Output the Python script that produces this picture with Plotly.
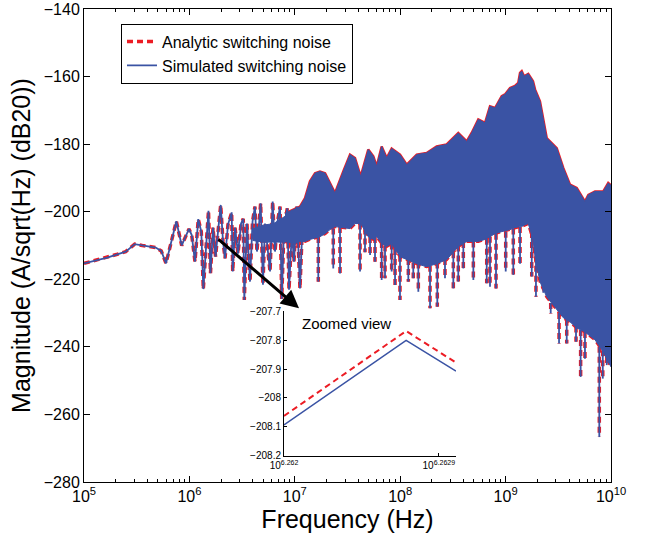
import plotly.graph_objects as go

# ---------------- data (frequencies as log10(Hz), magnitudes in dB) ----------------
# Low-frequency part: individual peaks and troughs of the spectrum
LOW_LOGF = [5.000, 5.126, 5.221, 5.316, 5.396, 5.481, 5.553, 5.680, 5.733, 5.778,
            5.876, 5.927, 5.996, 6.022, 6.053, 6.084, 6.113, 6.132, 6.181, 6.200,
            6.224, 6.248, 6.297, 6.319, 6.338, 6.366, 6.401, 6.411, 6.433, 6.461,
            6.490, 6.511, 6.521, 6.546, 6.575, 6.599, 6.622, 6.641, 6.676, 6.698,
            6.717, 6.741, 6.765, 6.790, 6.812, 6.836, 6.860, 6.876, 6.898, 6.929,
            6.945, 6.973, 6.992, 7.018, 7.049, 7.078]
LOW_DB = [-215.3, -214.3, -213.6, -212.6, -211.8, -209.6, -210.0, -210.6, -211.6, -215.3,
          -202.8, -210.0, -205.1, -206.9, -214.8, -202.2, -205.9, -222.9, -199.7, -218.2,
          -204.7, -213.3, -198.0, -208.8, -213.8, -203.8, -200.2, -217.7, -204.7, -212.4,
          -203.5, -202.1, -226.1, -203.5, -220.7, -202.9, -198.5, -211.8, -197.5, -221.6,
          -203.5, -211.8, -217.7, -197.0, -211.8, -202.9, -198.5, -225.8, -204.4, -199.0,
          -223.1, -205.3, -214.8, -198.5, -222.7, -199.9]

# Where the oscillations start to merge into a solid core (no visible red edge)
CORE_LOGF = [6.60, 6.70, 6.80, 6.90, 6.95]
CORE_TOP = [-205.0, -204.0, -203.5, -201.5, -200.5]
CORE_BOT = [-208.5, -209.0, -209.0, -209.0, -208.8]

# Dense high-frequency part: upper envelope and lower edge of the solid band
ENV_LOGF = [6.907, 7.002, 7.049, 7.097, 7.144, 7.192, 7.239, 7.287, 7.334, 7.381,
            7.460, 7.524, 7.571, 7.625, 7.697, 7.745, 7.777, 7.824, 7.872, 7.919,
            7.998, 8.062, 8.157, 8.251, 8.346, 8.441, 8.551, 8.631, 8.678, 8.741, 8.805,
            8.852, 8.900, 8.963, 8.994, 9.042, 9.089, 9.120, 9.137, 9.153, 9.175, 9.215,
            9.260, 9.279, 9.326,
            9.390, 9.485, 9.548, 9.611, 9.675, 9.753, 9.785, 9.848, 9.927, 9.974, 10.0]
ENV_TOP = [-200.5, -199.1, -198.5, -196.0, -191.0, -188.6, -188.1, -188.6, -191.5, -194.5,
           -188.1, -183.1, -184.1, -189.6, -181.6, -183.6, -186.6, -180.7, -184.1, -181.3,
           -183.1, -186.1, -183.1, -182.6, -180.7, -180.1, -176.7, -179.2, -176.7, -172.7, -173.7,
           -168.8, -169.3, -165.8, -165.3, -163.4, -162.8, -161.9, -158.9, -158.4, -159.9, -159.2,
           -161.4, -163.8, -167.3,
           -178.2, -181.2, -187.1, -192.0, -193.0, -197.0, -195.0, -194.0, -194.0, -191.5, -192.2]
ENV_BOT = [-208.8, -209.4, -208.8, -208.8, -208.2, -207.7, -207.4, -206.5, -205.3, -204.4,
           -204.7, -205.0, -203.5, -203.5, -207.4, -208.2, -207.4, -209.4, -210.3, -209.4,
           -213.3, -214.2, -215.4, -216.3, -215.4, -214.2, -210.3, -208.8, -208.8, -208.8, -208.2,
           -207.4, -206.5, -205.9, -205.6, -205.3, -204.7, -204.5, -204.4, -204.4, -204.0, -203.5,
           -208.2, -213.3, -220.7,
           -225.2, -229.0, -231.4, -232.6, -234.4, -235.6, -236.4, -237.9, -241.5, -244.5, -245.9]

# Deep notches below the solid band
SPIKE_LOGF = [7.223, 7.365, 7.429, 7.619, 7.666, 7.714, 7.761, 7.824, 7.856, 7.919,
              7.951, 7.998, 8.077, 8.124, 8.172, 8.283, 8.352, 8.425, 8.504, 8.551,
              8.599, 8.694, 8.821, 8.852, 8.909, 9.001, 9.073, 9.137, 9.248, 9.288,
              9.358, 9.428, 9.507, 9.580, 9.668, 9.712, 9.753, 9.889, 9.922, 9.960]
SPIKE_TOP = [-207.5, -205.0, -204.5, -203.5, -205.0, -207.5, -207.5, -209.0, -210.0, -209.4,
             -211.0, -213.0, -214.0, -215.0, -215.0, -216.0, -215.0, -214.0, -212.0, -210.0,
             -209.0, -208.8, -208.0, -207.4, -206.5, -205.9, -205.0, -204.5, -206.0, -213.0,
             -221.0, -227.0, -230.0, -232.0, -234.0, -235.0, -235.6, -240.0, -241.0, -243.0]
SPIKE_BOT = [-220.7, -216.8, -218.3, -217.7, -212.0, -212.8, -214.8, -220.2, -219.7, -217.7,
             -221.7, -226.1, -220.7, -219.7, -223.7, -228.6, -228.1, -219.7, -222.7, -220.7,
             -216.8, -220.2, -221.2, -222.2, -222.7, -217.7, -218.7, -215.4, -219.2, -225.2,
             -224.0, -230.1, -239.0, -239.0, -238.5, -248.9, -243.5, -266.7, -249.4, -245.4]

# Inset ("Zoomed view")
INSET_LOGF = [6.262, 6.26271, 6.263]
INSET_ANALYTIC = [-208.062, -207.769, -207.878]
INSET_SIMULATED = [-208.093, -207.801, -207.907]
INSET_XTICK_EXP = ["6.262", "6.2629"]
INSET_YTICKS = [-207.7, -207.8, -207.9, -208.0, -208.1, -208.2]

X_TICK_EXP = [5, 6, 7, 8, 9, 10]
Y_TICKS = [-280, -260, -240, -220, -200, -180, -160, -140]

SERIES_NAMES = ["Analytic switching noise", "Simulated switching noise"]

# ---------------- styles ----------------
RED = "#EC1C24"
BLUE = "#3A53A4"
FONT = "Liberation Sans, Arial, Helvetica, sans-serif"
DASH = "6px,4px"

hz = lambda es: [10 ** e for e in es]

fig = go.Figure()

# spike segments
sx, sy = [], []
for e, t, b in zip(SPIKE_LOGF, SPIKE_TOP, SPIKE_BOT):
    sx += [10 ** e, 10 ** e, None]
    sy += [t, b, None]

# --- analytic (red, dashed) drawn first ---
fig.add_trace(go.Scatter(x=hz(LOW_LOGF), y=LOW_DB, mode="lines", name=SERIES_NAMES[0],
                         line=dict(color=RED, width=3.5, dash=DASH)))
fig.add_trace(go.Scatter(x=sx, y=sy, mode="lines", showlegend=False,
                         line=dict(color=RED, width=3.5, dash=DASH)))
fig.add_trace(go.Scatter(x=hz(ENV_LOGF), y=ENV_TOP, mode="lines", showlegend=False,
                         line=dict(color=RED, width=2.5)))
fig.add_trace(go.Scatter(x=hz(ENV_LOGF), y=ENV_BOT, mode="lines", showlegend=False,
                         line=dict(color=RED, width=3, dash=DASH)))

# --- simulated (blue) on top ---
fig.add_trace(go.Scatter(x=hz(LOW_LOGF), y=LOW_DB, mode="lines", name=SERIES_NAMES[1],
                         line=dict(color=BLUE, width=1.8)))
fig.add_trace(go.Scatter(x=hz(CORE_LOGF) + hz(CORE_LOGF)[::-1], y=CORE_TOP + CORE_BOT[::-1],
                         mode="lines", fill="toself", fillcolor=BLUE, showlegend=False,
                         line=dict(color=BLUE, width=1)))
fig.add_trace(go.Scatter(x=hz(ENV_LOGF) + hz(ENV_LOGF)[::-1], y=ENV_TOP + ENV_BOT[::-1],
                         mode="lines", fill="toself", fillcolor=BLUE, showlegend=False,
                         line=dict(color=BLUE, width=1)))
fig.add_trace(go.Scatter(x=sx, y=sy, mode="lines", showlegend=False,
                         line=dict(color=BLUE, width=1.8)))

# --- inset ---
fig.add_trace(go.Scatter(x=hz(INSET_LOGF), y=INSET_ANALYTIC, mode="lines", showlegend=False,
                         xaxis="x2", yaxis="y2", line=dict(color=RED, width=2, dash="6px,4px")))
fig.add_trace(go.Scatter(x=hz(INSET_LOGF), y=INSET_SIMULATED, mode="lines", showlegend=False,
                         xaxis="x2", yaxis="y2", line=dict(color=BLUE, width=1.5)))

axis_common = dict(showline=True, linecolor="black", linewidth=1, ticks="inside",
                   tickcolor="black", showgrid=False, zeroline=False, automargin=False)

fig.update_layout(
    width=646, height=538,
    margin=dict(l=84, r=35, t=9, b=56, autoexpand=False),
    paper_bgcolor="white", plot_bgcolor="white",
    font=dict(family=FONT, color="black"),
    legend=dict(x=0.0702, y=0.969, xanchor="left", yanchor="top",
                bordercolor="black", borderwidth=1, bgcolor="white",
                font=dict(size=16), tracegroupgap=0, itemwidth=30),
    xaxis=dict(type="log", range=[5, 10], tickvals=[10 ** e for e in X_TICK_EXP],
               ticktext=[f"10<sup>{e}</sup>" for e in X_TICK_EXP], ticklen=6, mirror="ticks",
               tickfont=dict(size=16),
               minor=dict(ticks="inside", ticklen=3, tickcolor="black", dtick="D1", showgrid=False),
               title=dict(text="Frequency (Hz)", font=dict(size=25), standoff=2),
               domain=[0, 1], **axis_common),
    yaxis=dict(range=[-280, -140], tickvals=Y_TICKS, ticklen=6, mirror="ticks",
               tickfont=dict(size=16),
               title=dict(text="Magnitude (A/sqrt(Hz) (dB20))", font=dict(size=25), standoff=6),
               **axis_common),
    xaxis2=dict(type="log", range=[6.262, 6.263], anchor="y2",
                domain=[0.3795, 0.7059],
                tickvals=[10 ** float(t) for t in INSET_XTICK_EXP],
                ticktext=[f"10<sup>{t}</sup>" for t in INSET_XTICK_EXP],
                ticklen=3, tickfont=dict(size=10), **axis_common),
    yaxis2=dict(range=[-208.2, -207.7], anchor="x2", domain=[0.055, 0.3615],
                tickvals=INSET_YTICKS,
                ticktext=[f"{v:g}".replace("-", "\u2212") for v in INSET_YTICKS],
                ticklen=3, tickfont=dict(size=10), **axis_common),
    annotations=[
        dict(x=7.040, y=-228.6, ax=6.262, ay=-207.8, xref="x", yref="y", axref="x", ayref="y",
             text="", showarrow=True, arrowhead=2, arrowsize=1.2, arrowwidth=3, arrowcolor="black"),
        dict(x=0.093, y=0.917, xref="x2 domain", yref="y2 domain", text="Zoomed view",
             showarrow=False, xanchor="left", yanchor="middle", font=dict(size=15)),
    ],
)

fig.write_html("out.html", config={"displayModeBar": False},
               post_script="document.body.style.margin='0';")
